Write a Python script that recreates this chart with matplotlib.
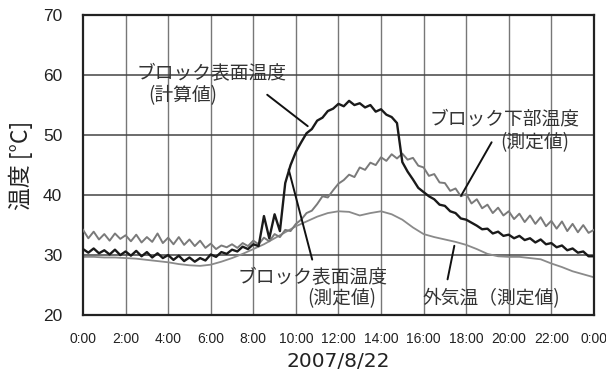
import matplotlib
matplotlib.use("Agg")
import matplotlib.pyplot as plt
import numpy as np

JP = ["Noto Sans CJK JP", "DejaVu Sans"]

# hours of day at 15-minute steps (0:00 .. 24:00)
t15 = np.arange(97) * 0.25
# hours of day at 30-minute steps
t30 = np.arange(49) * 0.5

# block bottom temperature, measured
bottom_meas = [
    34.2, 32.8, 33.9, 32.6,  33.5, 32.4, 33.6, 32.7,
    33.3, 32.3, 33.4, 32.1,  33.0, 32.2, 33.6, 32.0,
    32.9, 31.8, 33.0, 31.7,  32.6, 31.5, 32.4, 31.2,
    31.9, 31.0, 31.6, 31.3,  31.8, 31.2, 32.0, 31.5,
    32.4, 31.8, 32.9, 32.3,  33.5, 33.0, 34.2, 34.0,
    35.2, 35.9, 37.0, 37.4,  38.5, 39.8, 39.6, 40.8,
    41.9, 42.5, 43.4, 43.0,  44.6, 44.2, 45.4, 45.0,
    46.3, 45.7, 46.8, 46.1,  46.9, 45.9, 46.2, 44.9,
    44.6, 43.2, 43.5, 42.1,  42.0, 40.7, 41.1, 39.8,
    40.2, 38.6, 39.3, 37.8,  38.4, 37.0, 37.9, 36.6,
    37.3, 36.0, 36.9, 35.5,  36.6, 35.2, 36.3, 34.8,
    35.7, 34.4, 35.6, 34.0,  35.2, 33.8, 35.0, 33.7,
    34.2,
]

# block surface temperature, measured
surface_meas = [
    31.0, 30.4, 31.1, 30.3,  30.8, 30.1, 30.9, 30.0,
    30.6, 29.9, 30.7, 29.8,  30.5, 29.6, 30.3, 29.5,
    30.0, 29.2, 29.9, 29.0,  29.6, 28.9, 29.5, 29.1,
    30.1, 29.7, 30.5, 30.2,  30.9, 30.6, 31.4, 31.0,
    31.8, 31.5, 36.5, 32.8,  36.8, 34.0, 42.0, 45.0,
    47.2, 48.8, 50.3, 51.0,  52.4, 52.9, 54.0, 54.4,
    55.2, 54.8, 55.7, 55.0,  55.3, 54.6, 55.0, 53.9,
    54.3, 53.4, 53.0, 52.0,  45.5, 43.9, 42.6, 41.2,
    40.5, 39.8, 39.3, 38.4,  38.2, 37.3, 37.0, 36.1,
    35.9, 35.4, 34.9, 34.3,  34.4, 33.6, 33.9, 33.2,
    33.4, 32.8, 33.2, 32.5,  32.8, 32.1, 32.6, 31.8,
    32.0, 31.3, 31.6, 30.8,  31.1, 30.4, 30.6, 29.8,
    29.8,
]

# outside air temperature, measured
air_temp = [
    29.7, 29.7, 29.6, 29.6, 29.5, 29.4, 29.2, 29.0,
    28.8, 28.5, 28.3, 28.2, 28.4, 28.9, 29.5, 30.2,
    31.0, 31.8, 32.8, 33.8, 34.8, 35.6, 36.4, 37.0,
    37.3, 37.2, 36.6, 37.0, 37.3, 36.8, 35.9, 34.6,
    33.5, 33.0, 32.6, 32.2, 31.7, 31.0, 30.2, 29.8,
    29.7, 29.7, 29.5, 29.3, 28.6, 28.0, 27.3, 26.8,
    26.3,
]

xticks = list(range(0, 25, 2))
xticklabels = ["0:00", "2:00", "4:00", "6:00", "8:00", "10:00", "12:00",
               "14:00", "16:00", "18:00", "20:00", "22:00", "0:00"]
yticks = [20, 30, 40, 50, 60, 70]

fig = plt.figure(figsize=(6.06, 3.76), dpi=100)
ax = fig.add_axes([0.137, 0.162, 0.843, 0.798])

for x in xticks[1:-1]:
    ax.axvline(x, color="#777777", lw=1.0, zorder=1)
for y in yticks[1:-1]:
    ax.axhline(y, color="#444444", lw=1.1, zorder=1)

ax.plot(t30, air_temp, color="#8a8a8a", lw=1.3, zorder=2)
ax.plot(t15, bottom_meas, color="#7a7a7a", lw=1.4, zorder=3)
ax.plot(t15, surface_meas, color="#1a1a1a", lw=1.7, zorder=4)

ax.set_xlim(0, 24)
ax.set_ylim(20, 70)
ax.set_xticks(xticks)
ax.set_xticklabels(xticklabels, family="Liberation Sans", fontsize=10, color="#222222")
ax.set_yticks(yticks)
ax.set_yticklabels([str(v) for v in yticks], family="Liberation Sans", fontsize=12.5,
                   color="#222222")
ax.tick_params(length=0)
ax.tick_params(axis="x", pad=12.5)
ax.tick_params(axis="y", pad=15)
for s in ax.spines.values():
    s.set_linewidth(1.6)
    s.set_color("#222222")

ax.set_xlabel("2007/8/22", family="DejaVu Sans", fontsize=14.5, color="#222222")
ax.xaxis.set_label_coords(0.5, -0.122)
ax.set_ylabel("温度 [°C]", family=JP, fontsize=16.5, color="#222222")
ax.yaxis.set_label_coords(-0.098, 0.5)

txt = dict(family=JP, fontsize=13.5, color="#333333", zorder=6)
ax.text(6.06, 60.2, "ブロック表面温度", ha="center", va="center", **txt)
ax.text(4.7, 56.6, "(計算値)", ha="center", va="center", **txt)
ax.annotate("", xy=(10.66, 51.2), xytext=(8.55, 57.0),
            arrowprops=dict(arrowstyle="-", color="#111111", lw=1.4))

ax.text(19.8, 52.7, "ブロック下部温度", ha="center", va="center", **txt)
ax.text(21.2, 48.75, "(測定値)", ha="center", va="center", **txt)
ax.annotate("", xy=(17.7, 39.5), xytext=(19.26, 49.2),
            arrowprops=dict(arrowstyle="-", color="#111111", lw=1.4))

ax.text(10.8, 26.2, "ブロック表面温度", ha="center", va="center", **txt)
ax.text(12.17, 22.8, "(測定値)", ha="center", va="center", **txt)
ax.annotate("", xy=(9.63, 44.7), xytext=(10.8, 28.8),
            arrowprops=dict(arrowstyle="-", color="#111111", lw=1.4))

ax.text(19.2, 22.8, "外気温（測定値)", ha="center", va="center", **txt)
ax.annotate("", xy=(17.47, 32.0), xytext=(17.1, 25.5),
            arrowprops=dict(arrowstyle="-", color="#111111", lw=1.4))

fig.savefig("out.png", dpi=100, facecolor="white")
